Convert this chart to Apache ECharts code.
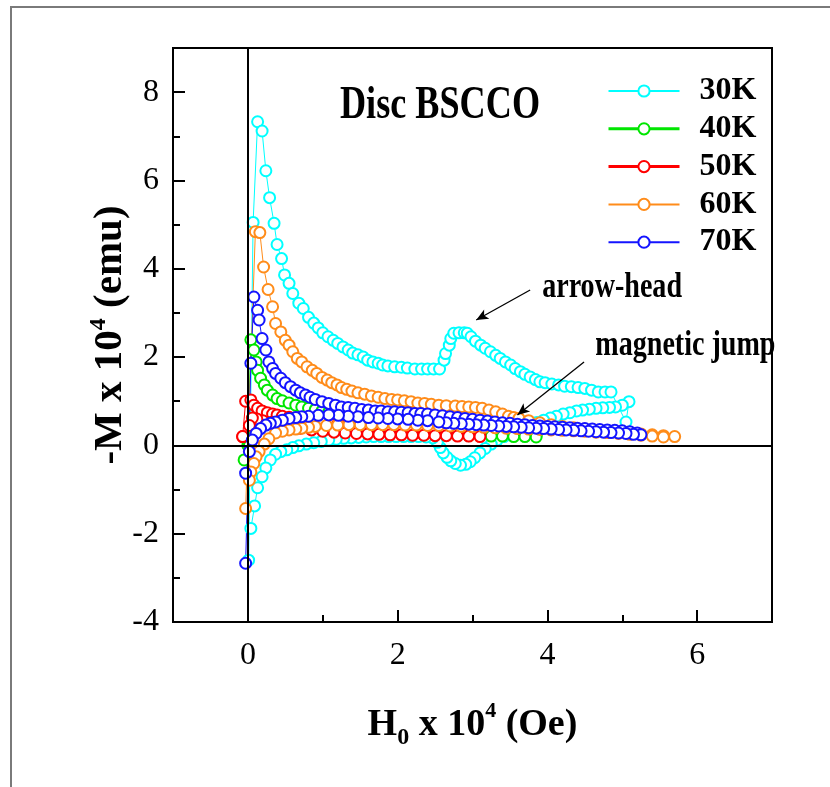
<!DOCTYPE html>
<html>
<head>
<meta charset="utf-8">
<script src="https://cdn.jsdelivr.net/npm/echarts@6/dist/echarts.min.js"></script>
<style>
html, body { margin: 0; padding: 0; background: #fff; }
#chart { width: 830px; height: 787px; }
</style>
</head>
<body>
<div id="chart"></div>
<script>
// Hysteresis loops -M(H) of a BSCCO disc; each entry is [H (x10^4 Oe), -M (x10^4 emu)]
const temps = ['30K', '40K', '50K', '60K', '70K'];
const colors = ['#00FFFF', '#00E600', '#FF0000', '#FF8C1A', '#1414FF'];

const loop30K = [
  [0.01,-2.6],[0.07,5.05],
  [0.13,7.33],[0.19,7.12],[0.24,6.22],[0.29,5.61],[0.35,5.03],[0.39,4.55],[0.45,4.23],[0.49,3.86],[0.55,3.67],[0.6,3.44],
  [0.68,3.22],[0.74,3.1],[0.81,2.9],[0.88,2.77],[0.94,2.66],[1.0,2.55],[1.07,2.46],[1.14,2.38],[1.2,2.31],[1.27,2.23],
  [1.34,2.16],[1.4,2.09],[1.47,2.05],[1.54,2.0],[1.6,1.93],[1.67,1.89],[1.74,1.86],[1.8,1.82],[1.87,1.8],[1.96,1.78],
  [2.05,1.77],[2.13,1.75],[2.23,1.73],[2.32,1.73],[2.4,1.73],[2.48,1.73],[2.56,1.73],[2.62,1.93],[2.64,2.08],[2.69,2.27],
  [2.71,2.42],[2.75,2.54],[2.82,2.55],[2.89,2.55],[2.93,2.54],[2.98,2.46],[3.04,2.36],[3.11,2.27],[3.17,2.2],[3.24,2.12],
  [3.31,2.04],[3.37,1.97],[3.44,1.89],[3.51,1.82],[3.57,1.74],[3.64,1.67],[3.7,1.61],[3.77,1.55],[3.84,1.49],[3.9,1.44],
  [3.97,1.42],[4.06,1.39],[4.15,1.37],[4.23,1.34],[4.32,1.33],[4.41,1.31],[4.5,1.29],[4.59,1.25],[4.68,1.21],[4.77,1.21],
  [4.85,1.21],[5.05,0.53],
  [5.09,0.99],[5.0,0.91],[4.91,0.87],[4.83,0.86],[4.74,0.85],[4.65,0.84],[4.56,0.82],[4.47,0.8],[4.39,0.78],[4.3,0.74],
  [4.21,0.71],[4.12,0.66],[4.04,0.62],[3.95,0.57],[3.86,0.52],[3.77,0.46],[3.68,0.4],[3.59,0.34],[3.51,0.28],[3.42,0.2],
  [3.33,0.12],[3.25,0.03],[3.17,-0.07],[3.1,-0.17],[3.03,-0.28],[2.97,-0.37],[2.91,-0.43],[2.84,-0.45],[2.77,-0.41],
  [2.71,-0.35],[2.66,-0.27],[2.61,-0.17],[2.57,-0.05],[2.53,0.07],[2.47,0.17],[2.38,0.19],[2.28,0.2],[2.18,0.2],[2.08,0.2],
  [1.98,0.2],[1.88,0.2],[1.78,0.2],[1.68,0.2],[1.58,0.19],[1.48,0.18],[1.38,0.17],[1.28,0.16],[1.18,0.14],[1.08,0.12],
  [0.98,0.09],[0.88,0.06],[0.78,0.03],[0.68,-0.01],[0.6,-0.05],[0.52,-0.1],[0.44,-0.14],[0.37,-0.2],[0.3,-0.33],
  [0.24,-0.51],[0.19,-0.71],[0.13,-0.96],[0.09,-1.37],[0.04,-1.88]
];

const loop40K = [
  [0.0,0.0],[0.04,2.39],[0.08,2.16],[0.11,1.89],[0.13,1.7],[0.17,1.52],[0.22,1.37],[0.26,1.25],[0.33,1.14],[0.39,1.06],
  [0.46,1.01],[0.55,0.96],[0.64,0.91],[0.72,0.87],[0.81,0.84],[0.9,0.81],[0.99,0.78],[1.08,0.76],[1.2,0.74],[1.35,0.71],
  [1.5,0.68],[1.7,0.64],[1.9,0.61],[2.1,0.57],[2.3,0.54],[2.5,0.5],[2.7,0.47],[2.9,0.43],[3.1,0.39],[3.3,0.35],[3.5,0.31],
  [3.7,0.27],[3.85,0.24],
  [3.85,0.19],[3.7,0.2],[3.55,0.2],[3.4,0.21],[3.25,0.21],[3.1,0.22],[2.95,0.22],[2.8,0.23],[2.65,0.23],[2.5,0.24],
  [2.35,0.24],[2.2,0.25],[2.05,0.26],[1.9,0.27],[1.75,0.28],[1.6,0.29],[1.45,0.3],[1.3,0.32],[1.15,0.34],[1.0,0.36],
  [0.85,0.39],[0.7,0.42],[0.55,0.46],[0.42,0.5],[0.3,0.55],[0.2,0.58],[0.12,0.55],[0.06,0.38],[0.02,0.0],[-0.05,-0.33]
];

const loop50K = [
  [-0.07,0.2],[-0.03,1.0],[0.04,1.03],[0.08,0.91],[0.13,0.84],[0.19,0.78],[0.26,0.74],[0.33,0.71],[0.39,0.69],[0.46,0.66],
  [0.55,0.64],[0.64,0.62],[0.72,0.6],[0.81,0.58],[0.9,0.56],[1.0,0.53],[1.1,0.5],[1.2,0.48],[1.32,0.45],[1.45,0.42],
  [1.6,0.4],[1.75,0.38],[1.9,0.36],[2.05,0.35],[2.2,0.34],[2.35,0.33],[2.5,0.32],[2.65,0.31],[2.8,0.3],[2.95,0.29],[3.1,0.28],
  [3.1,0.2],[2.95,0.21],[2.8,0.21],[2.65,0.22],[2.5,0.22],[2.35,0.23],[2.2,0.23],[2.05,0.24],[1.9,0.24],[1.75,0.25],
  [1.6,0.26],[1.45,0.27],[1.3,0.28],[1.15,0.3],[1.0,0.32],[0.85,0.35],[0.7,0.39],[0.55,0.43],[0.42,0.47],[0.3,0.52],
  [0.2,0.56],[0.12,0.6],[0.06,0.62],[0.02,0.45],[-0.07,0.2]
];

const loop60K = [
  [-0.03,-1.43],[0.1,4.84],[0.16,4.82],[0.21,4.04],[0.27,3.53],[0.33,3.14],[0.37,2.76],[0.44,2.57],[0.5,2.38],[0.55,2.27],
  [0.6,2.12],[0.66,1.97],[0.72,1.89],[0.79,1.78],[0.86,1.7],[0.92,1.63],[0.99,1.54],[1.06,1.48],[1.12,1.42],[1.19,1.37],
  [1.25,1.31],[1.32,1.27],[1.39,1.23],[1.47,1.19],[1.56,1.16],[1.65,1.12],[1.74,1.09],[1.83,1.06],[1.92,1.04],[2.0,1.03],
  [2.09,1.01],[2.18,0.99],[2.27,0.96],[2.36,0.95],[2.45,0.93],[2.55,0.91],[2.65,0.9],[2.77,0.89],[2.86,0.88],[2.95,0.87],
  [3.04,0.86],[3.13,0.84],[3.22,0.8],[3.31,0.76],[3.4,0.71],[3.48,0.66],[3.55,0.63],[3.62,0.61],[3.75,0.56],[3.9,0.51],
  [4.05,0.47],[4.2,0.43],[4.35,0.4],[4.5,0.37],[4.65,0.34],[4.8,0.32],[4.95,0.3],[5.1,0.28],[5.25,0.26],[5.4,0.24],
  [5.55,0.22],[5.7,0.2],
  [5.55,0.19],[5.4,0.21],[5.25,0.23],[5.1,0.25],[4.95,0.27],[4.8,0.29],[4.65,0.3],[4.5,0.32],[4.35,0.33],[4.2,0.34],
  [4.05,0.35],[3.9,0.36],[3.75,0.37],[3.6,0.38],[3.45,0.39],[3.3,0.4],[3.15,0.41],[3.0,0.42],[2.85,0.43],[2.7,0.44],
  [2.55,0.45],[2.4,0.45],[2.25,0.46],[2.1,0.46],[1.95,0.47],[1.8,0.47],[1.65,0.47],[1.5,0.47],[1.35,0.47],[1.2,0.46],
  [1.05,0.45],[0.9,0.43],[0.81,0.41],[0.72,0.39],[0.64,0.37],[0.55,0.35],[0.46,0.32],[0.37,0.28],[0.28,0.15],[0.22,0.03],
  [0.15,-0.14],[0.11,-0.26],[0.08,-0.41],[0.04,-0.6],[0.02,-0.79]
];

const loop70K = [
  [-0.03,-2.67],[0.04,1.86],[0.08,3.36],[0.13,3.06],[0.15,2.84],[0.19,2.42],[0.24,2.16],[0.28,1.89],[0.33,1.74],[0.37,1.63],
  [0.44,1.52],[0.5,1.42],[0.57,1.33],[0.64,1.25],[0.7,1.19],[0.77,1.14],[0.83,1.09],[0.9,1.04],[0.99,0.99],[1.08,0.95],
  [1.17,0.91],[1.25,0.87],[1.34,0.86],[1.43,0.84],[1.52,0.81],[1.61,0.8],[1.7,0.78],[1.78,0.78],[1.87,0.76],[1.96,0.76],
  [2.05,0.75],[2.14,0.74],[2.23,0.72],[2.31,0.72],[2.4,0.71],[2.5,0.69],[2.6,0.67],[2.7,0.65],[2.8,0.63],[2.9,0.61],
  [3.0,0.59],[3.1,0.57],[3.2,0.55],[3.3,0.53],[3.4,0.51],[3.5,0.5],[3.6,0.48],[3.7,0.47],[3.8,0.45],[3.9,0.44],[4.0,0.43],
  [4.1,0.42],[4.2,0.41],[4.3,0.4],[4.4,0.39],[4.5,0.38],[4.6,0.37],[4.7,0.36],[4.8,0.35],[4.9,0.34],[5.0,0.33],[5.1,0.31],
  [5.2,0.28],
  [5.25,0.24],[5.15,0.25],[5.05,0.27],[4.95,0.28],[4.85,0.29],[4.75,0.3],[4.65,0.31],[4.55,0.32],[4.45,0.33],[4.35,0.34],
  [4.25,0.35],[4.15,0.36],[4.05,0.37],[3.95,0.38],[3.85,0.39],[3.75,0.4],[3.65,0.41],[3.55,0.42],[3.45,0.43],[3.35,0.44],
  [3.25,0.45],[3.15,0.46],[3.05,0.47],[2.95,0.48],[2.85,0.49],[2.75,0.5],[2.65,0.51],[2.55,0.53],[2.4,0.56],[2.27,0.57],
  [2.14,0.59],[2.0,0.6],[1.87,0.61],[1.74,0.62],[1.61,0.63],[1.47,0.65],[1.34,0.66],[1.21,0.68],[1.08,0.69],[0.94,0.68],
  [0.81,0.66],[0.72,0.65],[0.64,0.63],[0.55,0.61],[0.46,0.57],[0.37,0.53],[0.3,0.5],[0.24,0.46],[0.17,0.38],[0.11,0.27],
  [0.06,0.12],[0.02,-0.14],[-0.03,-0.63]
];

const loops = [loop30K, loop40K, loop50K, loop60K, loop70K];
const legendLineWidths = [2, 3, 3, 2, 2];

// Axis ranges and ticks
const hRange = [-1, 7];
const mRange = [-4, 9];
const hMajor = [0, 2, 4, 6];
const hMinor = [1, 3, 5];
const mMajor = [-4, -2, 0, 2, 4, 6, 8];
const mMinor = [-3, -1, 1, 3, 5, 7];

// Sample name, and annotations (label anchor and arrow [from, to]) in data units
const heading = { text: 'Disc BSCCO', at: [1.23, 7.68], size: 47, squeeze: 0.77 };
const notes = [
  { text: 'arrow-head', at: [3.93, 3.58], from: [3.77, 3.52], to: [3.05, 2.84] },
  { text: 'magnetic jump', at: [4.64, 2.25], from: [4.49, 1.89], to: [3.6, 0.69] }
];

const SERIF = "'Liberation Serif', 'DejaVu Serif', 'Times New Roman', serif";

const chart = echarts.init(document.getElementById('chart'), null, { renderer: 'canvas' });

const series = temps.map((t, i) => ({
  name: t,
  type: 'line',
  data: loops[i],
  symbol: 'emptyCircle',
  symbolSize: 11,
  showSymbol: true,
  showAllSymbol: true,
  animation: false,
  silent: true,
  lineStyle: { color: colors[i], width: 1 },
  itemStyle: { color: colors[i], borderColor: colors[i], borderWidth: 1.3 }
}));

// zero lines and annotation arrows
series[series.length - 1].markLine = {
  silent: true,
  animation: false,
  symbol: ['none', 'none'],
  label: { show: false },
  lineStyle: { color: '#000', width: 2, type: 'solid' },
  emphasis: { disabled: true },
  data: [
    { xAxis: 0 },
    { yAxis: 0 },
    ...notes.map(n => [
      { coord: n.from, symbol: 'none', lineStyle: { width: 1.3, color: '#000', type: 'solid' } },
      { coord: n.to, symbol: 'arrow', symbolSize: [8, 12] }
    ])
  ]
};

const tickLabel = { color: '#000', fontFamily: SERIF, fontSize: 32 };

chart.setOption({
  backgroundColor: '#fff',
  animation: false,
  legend: {
    orient: 'vertical',
    left: 607,
    top: 75,
    padding: 0,
    itemWidth: 71,
    itemHeight: 14,
    itemGap: 5.8,
    selectedMode: false,
    textStyle: { fontFamily: SERIF, fontWeight: 'bold', fontSize: 32, lineHeight: 30, color: '#000', padding: [0, 0, 0, 15] },
    data: temps.map((t, i) => ({ name: t, lineStyle: { width: legendLineWidths[i], color: colors[i] } }))
  },
  grid: {
    left: 173, right: 58, top: 48, bottom: 165,
    show: true, borderColor: '#000', borderWidth: 2, backgroundColor: 'transparent'
  },
  xAxis: [
    {
      type: 'value', min: hRange[0], max: hRange[1], position: 'bottom',
      name: 'H{sub|0} x 10{sup|4} (Oe)',
      nameLocation: 'middle',
      nameGap: 78,
      nameMoveOverlap: false,
      nameTextStyle: {
        fontFamily: SERIF, fontWeight: 'bold', fontSize: 38, lineHeight: 50, color: '#000',
        rich: {
          sub: { fontFamily: SERIF, fontWeight: 'bold', fontSize: 24, lineHeight: 24, verticalAlign: 'bottom' },
          sup: { fontFamily: SERIF, fontWeight: 'bold', fontSize: 22, lineHeight: 22, verticalAlign: 'top' }
        }
      },
      axisLine: { show: true, onZero: false, lineStyle: { color: '#000', width: 2 } },
      axisTick: { show: true, inside: true, length: 12, customValues: hMajor, lineStyle: { color: '#000', width: 2 } },
      axisLabel: { ...tickLabel, margin: 18, customValues: hMajor },
      splitLine: { show: false }
    },
    {
      type: 'value', min: hRange[0], max: hRange[1], position: 'bottom', gridIndex: 0,
      axisLine: { show: false, onZero: false },
      axisTick: { show: true, inside: true, length: 7, customValues: hMinor, lineStyle: { color: '#000', width: 2 } },
      axisLabel: { show: false },
      splitLine: { show: false }
    }
  ],
  yAxis: [
    {
      type: 'value', min: mRange[0], max: mRange[1], position: 'left',
      name: '-M x 10{sup|4} (emu)',
      nameLocation: 'middle',
      nameGap: 40,
      nameMoveOverlap: false,
      nameRotate: 90,
      nameTextStyle: {
        fontFamily: SERIF, fontWeight: 'bold', fontSize: 41, lineHeight: 46, color: '#000',
        rich: {
          sup: { fontFamily: SERIF, fontWeight: 'bold', fontSize: 24, lineHeight: 24, verticalAlign: 'top' }
        }
      },
      axisLine: { show: true, onZero: false, lineStyle: { color: '#000', width: 2 } },
      axisTick: { show: true, inside: true, length: 12, customValues: mMajor, lineStyle: { color: '#000', width: 2 } },
      axisLabel: { ...tickLabel, margin: 14, customValues: mMajor },
      splitLine: { show: false }
    },
    {
      type: 'value', min: mRange[0], max: mRange[1], position: 'left', gridIndex: 0,
      axisLine: { show: false, onZero: false },
      axisTick: { show: true, inside: true, length: 7, customValues: mMinor, lineStyle: { color: '#000', width: 2 } },
      axisLabel: { show: false },
      splitLine: { show: false }
    }
  ],
  series: series
});

// outer frame, sample name and annotation labels (narrow bold serif)
const graphics = [
  {
    type: 'rect', silent: true, z: -1,
    shape: { x: 11, y: 7, width: 900, height: 900 },
    style: { fill: null, stroke: '#7a7a7a', lineWidth: 2 }
  }
];
function narrowText(text, at, size, squeeze) {
  const p = chart.convertToPixel({ gridIndex: 0 }, at);
  return {
    type: 'text', silent: true, z: 10,
    x: p[0], y: p[1], scaleX: squeeze, scaleY: 1,
    style: {
      text: text, fill: '#000',
      font: 'bold ' + size + 'px ' + SERIF,
      textAlign: 'left', textVerticalAlign: 'middle'
    }
  };
}
graphics.push(narrowText(heading.text, heading.at, heading.size, heading.squeeze));
notes.forEach(n => graphics.push(narrowText(n.text, n.at, 36, 0.78)));
chart.setOption({ graphic: graphics });
</script>
</body>
</html>
